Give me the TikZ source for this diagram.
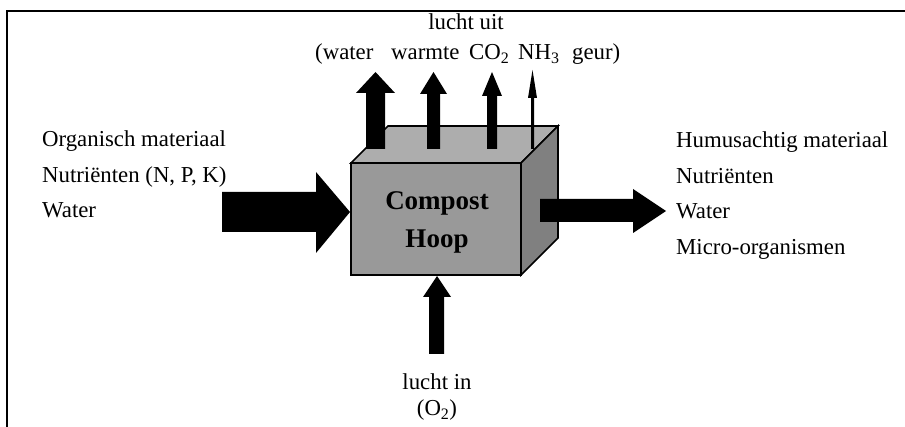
\documentclass[tikz,border=0pt]{standalone}
\usepackage{fontspec}
\setmainfont{Liberation Serif}
\begin{document}
\begin{tikzpicture}[x=1pt,y=-1pt,
  lbl/.style={inner sep=0pt,font=\fontsize{22.8}{27}\selectfont},
  blockarrow/.style={fill=black,draw=none},
  cubeline/.style={draw=black,line width=1.6pt,line join=miter}]
\useasboundingbox (0,0) rectangle (905,427);
% frame
\draw[line width=2pt] (7,427) -- (7,11) -- (905,11);
% cube
\coordinate (fl) at (351,163);
\coordinate (fr) at (521,163);
\coordinate (bl) at (351,275);
\coordinate (br) at (521,275);
\coordinate (tbl) at (388,126);
\coordinate (tbr) at (558,126);
\coordinate (rbb) at (558,238);
\filldraw[cubeline,fill=black!32] (fl) -- (tbl) -- (tbr) -- (fr) -- cycle;
\filldraw[cubeline,fill=black!50] (fr) -- (tbr) -- (rbb) -- (br) -- cycle;
\filldraw[cubeline,fill=black!40] (fl) rectangle (br);
\node[inner sep=0pt,font=\fontsize{27}{32}\bfseries\selectfont,anchor=base] (c1) at (437,210) {Compost};
\node[inner sep=0pt,font=\fontsize{27}{32}\bfseries\selectfont,anchor=base] (c2) at (437,248) {Hoop};
% left input arrow
\fill[blockarrow] (222,192) -- (316,192) -- (316,172) -- (350,212) -- (316,253) -- (316,232) -- (222,232) -- cycle;
% right output arrow
\fill[blockarrow] (540,199) -- (633,199) -- (633,189) -- (666,211) -- (633,233) -- (633,222) -- (540,222) -- cycle;
% bottom arrow
\fill[blockarrow] (429,354) -- (429,297) -- (423,297) -- (437,276) -- (451,297) -- (444,297) -- (444,354) -- cycle;
% top arrows
\fill[blockarrow] (366,149) -- (366,93) -- (356,93) -- (375.5,72) -- (395,93) -- (385,93) -- (385,149) -- cycle;
\fill[blockarrow] (427,149) -- (427,94) -- (420,94) -- (433.5,72) -- (447,94) -- (440,94) -- (440,149) -- cycle;
\fill[blockarrow] (487,149) -- (487,96) -- (482,96) -- (492,72) -- (502,96) -- (497,96) -- (497,149) -- cycle;
\fill[blockarrow] (531,149) -- (531,98) -- (528,98) -- (532.5,70) -- (537,98) -- (534,98) -- (534,149) -- cycle;
% top labels
\node[lbl,anchor=base] (uit) at (466,30) {lucht uit};
\node[lbl,anchor=base west] (u1) at (315,60) {(water};
\node[lbl,anchor=base west] (u2) at (391,60) {warmte};
\node[lbl,anchor=base west] (u3) at (469,60) {CO\textsubscript{2}};
\node[lbl,anchor=base west] (u4) at (518,60) {NH\textsubscript{3}};
\node[lbl,anchor=base west] (u5) at (572,60) {geur)};
% bottom labels
\node[lbl,anchor=base] (in1) at (437,390) {lucht in};
\node[lbl,anchor=base] (in2) at (437,416) {(O\textsubscript{2})};
% left labels
\node[lbl,anchor=base west] (l1) at (42,147) {Organisch materiaal};
\node[lbl,anchor=base west] (l2) at (42,183) {Nutriënten (N, P, K)};
\node[lbl,anchor=base west] (l3) at (42,218) {Water};
% right labels
\node[lbl,anchor=base west] (r1) at (676,148) {Humusachtig materiaal};
\node[lbl,anchor=base west] (r2) at (676,184) {Nutriënten};
\node[lbl,anchor=base west] (r3) at (676,219) {Water};
\node[lbl,anchor=base west] (r4) at (676,255) {Micro-organismen};
\end{tikzpicture}
\end{document}
